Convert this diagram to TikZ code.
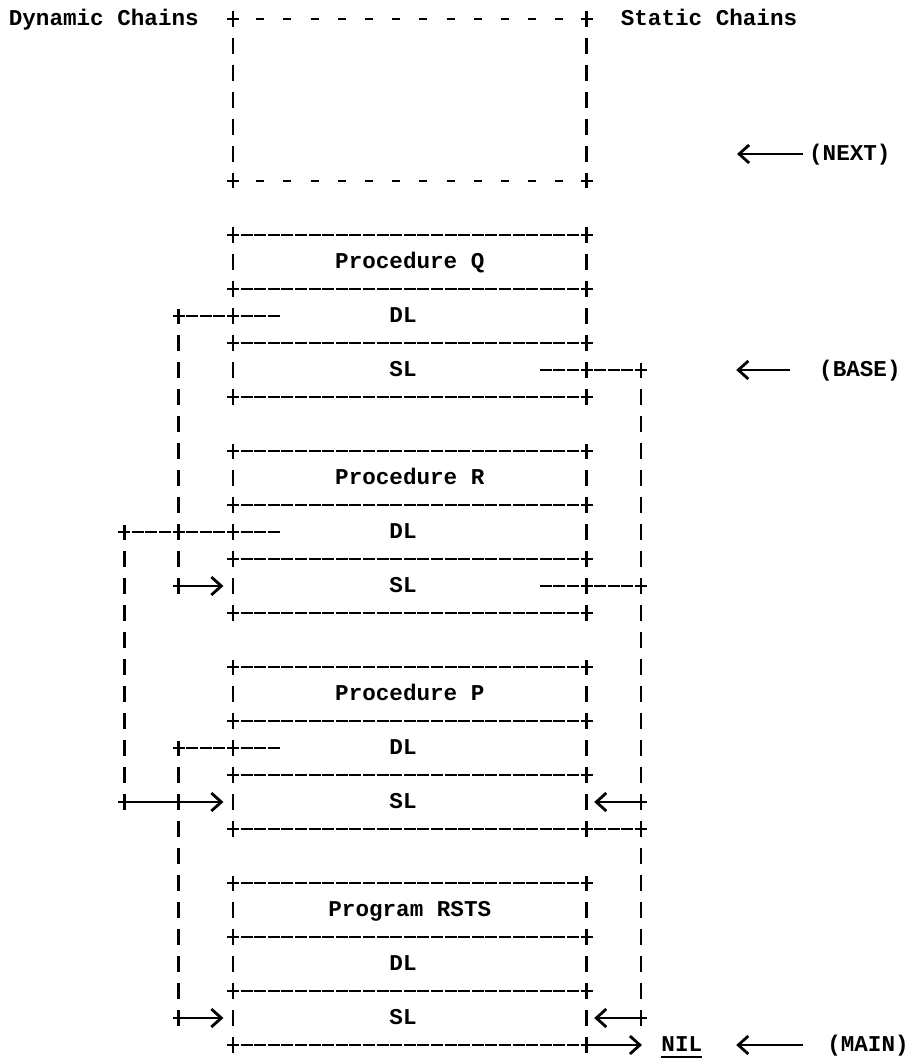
\documentclass[tikz,border=0pt]{standalone}
\usepackage{fontspec}
\newfontfamily\twfont{Liberation Mono}
\usetikzlibrary{arrows.meta}
\tikzset{
  hl/.style={line width=2.8pt, dash pattern=on 12pt off 1.6pt, dash phase=6pt},
  hdash/.style={line width=2.6pt, dash pattern=on 8pt off 19.2pt, dash phase=4pt},
  vl/.style={line width=2.8pt, dash pattern=on 16pt off 11pt, dash phase=8pt},
  arr/.style={line width=2.8pt, -{Straight Barb[length=10pt,width=18pt]}},
  txt/.style={font=\twfont\bfseries\fontsize{22.6pt}{27pt}\selectfont, inner sep=0pt, anchor=base},
  pluschar/.pic={\draw[line width=2.8pt] (-6pt,0pt) -- (6pt,0pt) (0pt,-7.5pt) -- (0pt,7.5pt);}
}
\begin{document}
\begin{tikzpicture}[x=13.6pt,y=-27pt]
\fill[white] (-15.4pt,19pt) rectangle (904.6pt,-1040pt);
\useasboundingbox (-15.4pt,19pt) rectangle (904.6pt,-1040pt);

% titles
\node[txt] (dyn) at ([yshift=-6.5pt]6.5,0) {Dynamic Chains};
\node[txt] (stat) at ([yshift=-6.5pt]51,0) {Static Chains};

% free area (dashed box)
\coordinate (n-tl) at (16,0); \coordinate (n-tr) at (42,0);
\coordinate (n-bl) at (16,6); \coordinate (n-br) at (42,6);
\draw[hdash] (n-tl) -- (n-tr);
\draw[hdash] (n-bl) -- (n-br);
\draw[vl] (n-tl) -- (n-bl);
\draw[vl] (n-tr) -- (n-br);
\foreach \p in {n-tl,n-tr,n-bl,n-br} \pic at (\p) {pluschar};

% frames
\foreach \nm/\t/\ttl in {q/8/Procedure Q, r/16/Procedure R, p/24/Procedure P, m/32/Program RSTS} {
  \foreach \k in {0,2,4,6} {
    \coordinate (\nm-l\k) at (16,\t+\k);
    \coordinate (\nm-r\k) at (42,\t+\k);
    \draw[hl] (\nm-l\k) -- (\nm-r\k);
    \pic at (\nm-l\k) {pluschar};
    \pic at (\nm-r\k) {pluschar};
  }
  \draw[vl] (\nm-l0) -- (\nm-l6);
  \draw[vl] (\nm-r0) -- (\nm-r6);
  \node[txt] (\nm-title) at ([yshift=-6.5pt]29,\t+1) {\ttl};
  \node[txt] (\nm-dl) at ([yshift=-6.5pt]28.5,\t+3) {DL};
  \node[txt] (\nm-sl) at ([yshift=-6.5pt]28.5,\t+5) {SL};
}

% chain points
\coordinate (qd0) at (12,11); \coordinate (qd1) at (16,11); \coordinate (qd2) at (19.5,11);
\coordinate (qs0) at (46,13); \coordinate (qs1) at (42,13); \coordinate (qs2) at (38.5,13);
\coordinate (rd0) at (8,19); \coordinate (rd1) at (12,19); \coordinate (rd2) at (16,19); \coordinate (rd3) at (19.5,19);
\coordinate (ra0) at (12,21); \coordinate (ra1) at ([xshift=4pt]15,21);
\coordinate (rs0) at (46,21); \coordinate (rs1) at (42,21); \coordinate (rs2) at (38.5,21);
\coordinate (pd0) at (12,27); \coordinate (pd1) at (16,27); \coordinate (pd2) at (19.5,27);
\coordinate (pa0) at (8,29); \coordinate (pa1) at (12,29); \coordinate (pa2) at ([xshift=4pt]15,29);
\coordinate (ps0) at (46,29); \coordinate (ps1) at ([xshift=-6pt]43,29);
\coordinate (pe0) at (46,30);
\coordinate (ma0) at (12,37); \coordinate (ma1) at ([xshift=4pt]15,37);
\coordinate (ms0) at (46,37); \coordinate (ms1) at ([xshift=-6pt]43,37);
\coordinate (mn1) at ([xshift=1pt]46,38);

% dynamic chains
\draw[hl] (qd0) -- (qd2);
\draw[vl] (qd0) -- (ra0);
\draw[arr] (ra0) -- (ra1);
\draw[hl] (rd0) -- (rd3);
\draw[vl] (rd0) -- (pa0);
\draw[arr] (pa0) -- (pa2);
\draw[hl] (pd0) -- (pd2);
\draw[vl] (pd0) -- (ma0);
\draw[arr] (ma0) -- (ma1);

% static chains
\draw[hl] (qs0) -- (qs2);
\draw[vl] (qs0) -- (rs0);
\draw[hl] (rs0) -- (rs2);
\draw[vl] (rs0) -- (ms0);
\draw[arr] (ps0) -- (ps1);
\draw[hl] (p-r6) -- (pe0);
\draw[arr] (ms0) -- (ms1);
\draw[arr] (m-r6) -- (mn1);

\foreach \p in {qd0,qd1,qs0,qs1,rd0,rd1,rd2,ra0,rs0,rs1,pd0,pd1,pa0,pa1,ps0,pe0,ma0,ms0}
  \pic at (\p) {pluschar};

% NIL
\node[txt] (nil) at ([yshift=-6.5pt]49,38) {NIL};
\draw[line width=2pt] ([yshift=-5pt]nil.base west) -- ([yshift=-5pt]nil.base east);

% pointer labels
\coordinate (nx-tip) at (53.06,5); \coordinate (nx-tail) at (57.91,5);
\node[txt,anchor=base west] (nx) at ([yshift=-6.5pt]58.35,5) {(NEXT)};
\draw[arr] (nx-tail) -- (nx-tip);

\coordinate (bs-tip) at (53.0,13); \coordinate (bs-tail) at (56.96,13);
\node[txt,anchor=base west] (bs) at ([yshift=-6.5pt]59.09,13) {(BASE)};
\draw[arr] (bs-tail) -- (bs-tip);

\coordinate (mn-tip) at (53.0,38); \coordinate (mn-tail) at (57.91,38);
\node[txt,anchor=base west] (mnl) at ([yshift=-6.5pt]59.68,38) {(MAIN)};
\draw[arr] (mn-tail) -- (mn-tip);
\end{tikzpicture}
\end{document}
